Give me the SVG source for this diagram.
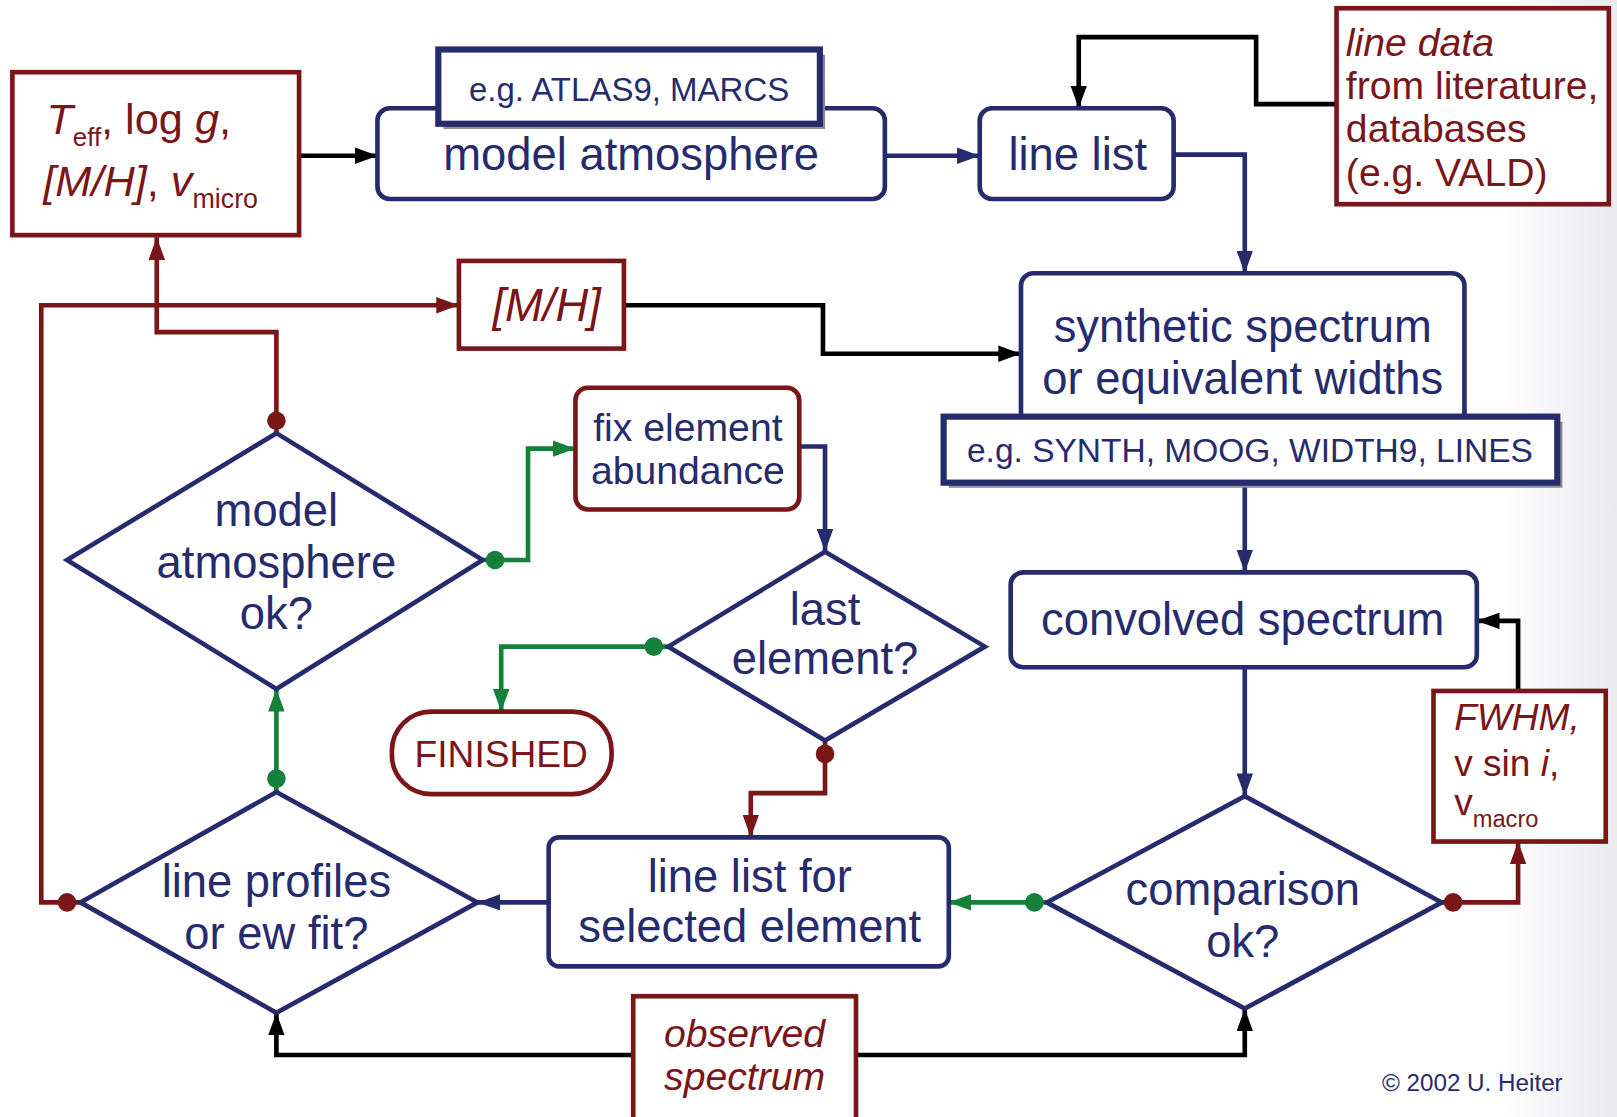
<svg xmlns="http://www.w3.org/2000/svg" width="1617" height="1117" viewBox="0 0 1617 1117">
<defs>
<style>
text{font-family:"Liberation Sans",Arial,sans-serif}
.navyT{fill:#262B6E}
.redT{fill:#7A1518}
.big{font-size:44px}
.mid{font-size:38px}
.it{font-style:italic}
.bn{fill:#fff;stroke:#262B6E;stroke-width:4.5}
.rn{fill:#fff;stroke:#7A1518;stroke-width:4.5}
.eg{fill:#fff;stroke:#262B6E;stroke-width:6}
.sh{fill:#8c8c8c}
.c{fill:none;stroke-width:4.5}
.cN{stroke:#262B6E}
.cK{stroke:#000}
.cR{stroke:#7A1518}
.cG{stroke:#15803A}
</style>
<marker id="aN" viewBox="0 0 22 16" refX="22" refY="8" markerWidth="22" markerHeight="16" markerUnits="userSpaceOnUse" orient="auto"><path d="M0,0 L22,8 L0,16 Z" fill="#262B6E"/></marker>
<marker id="aK" viewBox="0 0 22 16" refX="22" refY="8" markerWidth="22" markerHeight="16" markerUnits="userSpaceOnUse" orient="auto"><path d="M0,0 L22,8 L0,16 Z" fill="#000"/></marker>
<marker id="aR" viewBox="0 0 22 16" refX="22" refY="8" markerWidth="22" markerHeight="16" markerUnits="userSpaceOnUse" orient="auto"><path d="M0,0 L22,8 L0,16 Z" fill="#7A1518"/></marker>
<marker id="aG" viewBox="0 0 22 16" refX="22" refY="8" markerWidth="22" markerHeight="16" markerUnits="userSpaceOnUse" orient="auto"><path d="M0,0 L22,8 L0,16 Z" fill="#15803A"/></marker>
<linearGradient id="bgR" x1="0" y1="0" x2="1" y2="0">
<stop offset="0" stop-color="#ffffff"/>
<stop offset="1" stop-color="#e9e9ee"/>
</linearGradient>
</defs>
<rect x="0" y="0" width="1617" height="1117" fill="#fff"/>
<rect x="1500" y="0" width="117" height="1117" fill="url(#bgR)"/>
<g transform="scale(1.0313)">

<g id="connectors">
<path class="c cK" d="M290,151 H366" marker-end="url(#aK)"/>
<path class="c cN" d="M858,151 H950" marker-end="url(#aN)"/>
<path class="c cK" d="M1296,101 H1218 V36 H1046 V105" marker-end="url(#aK)"/>
<path class="c cN" d="M1138,150 H1207 V265" marker-end="url(#aN)"/>
<path class="c cN" d="M1207,470 V555" marker-end="url(#aN)"/>
<path class="c cN" d="M1207,647 V772" marker-end="url(#aN)"/>
<path class="c cK" d="M1472,670 V602 H1432" marker-end="url(#aK)"/>
<path class="c cR" d="M1398,875 H1472 V816" marker-end="url(#aR)"/>
<path class="c cG" d="M1015,875 H920" marker-end="url(#aG)"/>
<path class="c cN" d="M532,875 H463" marker-end="url(#aN)"/>
<path class="c cR" d="M78,875 H40 V296 H445" marker-end="url(#aR)"/>
<path class="c cK" d="M605,296 H798 V343 H990" marker-end="url(#aK)"/>
<path class="c cG" d="M268,768 V668" marker-end="url(#aG)"/>
<path class="c cR" d="M268,420 V322 H152 V230" marker-end="url(#aR)"/>
<path class="c cG" d="M468,543 H512 V435 H558" marker-end="url(#aG)"/>
<path class="c cN" d="M775,433 H800 V535" marker-end="url(#aN)"/>
<path class="c cG" d="M648,627 H486 V690" marker-end="url(#aG)"/>
<path class="c cR" d="M800,718 V769 H728 V812" marker-end="url(#aR)"/>
<path class="c cK" d="M614,1023 H268 V982" marker-end="url(#aK)"/>
<path class="c cK" d="M830,1023 H1207 V978" marker-end="url(#aK)"/>
</g>

<g id="node-params">
<rect class="rn" x="12" y="70" width="278" height="158"/>
<text class="redT" x="45" y="130" font-size="42"><tspan class="it">T</tspan><tspan font-size="25" dy="12">eff</tspan><tspan dy="-12">, log </tspan><tspan class="it">g</tspan>,</text>
<text class="redT" x="42" y="190" font-size="42"><tspan class="it">[M/H]</tspan>, <tspan class="it">v</tspan><tspan font-size="26" dy="12">micro</tspan></text>
</g>

<g id="node-model-atmosphere">
<rect class="bn" x="366" y="105" width="492" height="88" rx="12"/>
<text class="navyT big" x="612" y="165" text-anchor="middle">model atmosphere</text>
</g>

<g id="node-atlas">
<rect class="sh" x="430" y="53" width="370" height="72"/>
<rect class="eg" x="425" y="48" width="370" height="72"/>
<text class="navyT" x="610" y="98" font-size="32" text-anchor="middle">e.g. ATLAS9, MARCS</text>
</g>

<g id="node-line-list">
<rect class="bn" x="950" y="105" width="188" height="88" rx="12"/>
<text class="navyT big" x="1045" y="165" text-anchor="middle">line list</text>
</g>

<g id="node-line-data">
<rect class="rn" x="1296" y="8" width="264" height="190"/>
<text class="redT mid" x="1305" y="54"><tspan class="it">line data</tspan><tspan x="1305" y="96">from literature,</tspan><tspan x="1305" y="138">databases</tspan><tspan x="1305" y="180">(e.g. VALD)</tspan></text>
</g>

<g id="node-synthetic">
<rect class="bn" x="990" y="265" width="430" height="160" rx="12"/>
<text class="navyT big" x="1205" y="332" text-anchor="middle">synthetic spectrum</text>
<text class="navyT big" x="1205" y="382" text-anchor="middle">or equivalent widths</text>
</g>

<g id="node-synth-codes">
<rect class="sh" x="920" y="409" width="595" height="64"/>
<rect class="eg" x="915" y="404" width="595" height="64"/>
<text class="navyT" x="1212" y="448" font-size="32.5" text-anchor="middle">e.g. SYNTH, MOOG, WIDTH9, LINES</text>
</g>

<g id="node-convolved">
<rect class="bn" x="980" y="555" width="452" height="92" rx="12"/>
<text class="navyT big" x="1205" y="616" text-anchor="middle">convolved spectrum</text>
</g>

<g id="node-broadening">
<rect class="rn" x="1390" y="670" width="167" height="146"/>
<text class="redT" x="1410" y="708" font-size="36"><tspan class="it">FWHM,</tspan><tspan x="1410" y="752">v sin </tspan><tspan class="it">i</tspan>,<tspan x="1410" y="790">v</tspan><tspan font-size="23" dy="12">macro</tspan></text>
</g>

<g id="node-comparison">
<path class="bn" d="M1207,772 L1398,875 L1207,978 L1015,875 Z"/>
<text class="navyT big" x="1205" y="878" text-anchor="middle">comparison</text>
<text class="navyT big" x="1205" y="928" text-anchor="middle">ok?</text>
</g>

<g id="node-selected">
<rect class="bn" x="532" y="812" width="388" height="125" rx="10"/>
<text class="navyT big" x="727" y="865" text-anchor="middle">line list for</text>
<text class="navyT big" x="727" y="913" text-anchor="middle">selected element</text>
</g>

<g id="node-line-profiles">
<path class="bn" d="M268,768 L463,875 L268,982 L78,875 Z"/>
<text class="navyT big" x="268" y="870" text-anchor="middle">line profiles</text>
<text class="navyT big" x="268" y="920" text-anchor="middle">or ew fit?</text>
</g>

<g id="node-mh">
<rect class="rn" x="445" y="253" width="160" height="85"/>
<text class="redT big it" x="530" y="311" text-anchor="middle">[M/H]</text>
</g>

<g id="node-model-ok">
<path class="bn" d="M268,420 L468,543 L268,668 L65,543 Z"/>
<text class="navyT big" x="268" y="510" text-anchor="middle">model</text>
<text class="navyT big" x="268" y="560" text-anchor="middle">atmosphere</text>
<text class="navyT big" x="268" y="610" text-anchor="middle">ok?</text>
</g>

<g id="node-fix">
<rect class="rn" x="558" y="376" width="217" height="118" rx="12"/>
<text class="navyT mid" x="667" y="428" text-anchor="middle">fix element</text>
<text class="navyT mid" x="667" y="469" text-anchor="middle">abundance</text>
</g>

<g id="node-last">
<path class="bn" d="M800,535 L955,627 L800,718 L648,627 Z"/>
<text class="navyT big" x="800" y="606" text-anchor="middle">last</text>
<text class="navyT big" x="800" y="654" text-anchor="middle">element?</text>
</g>

<g id="node-finished">
<rect class="rn" x="380" y="690" width="213" height="80" rx="38"/>
<text class="redT" x="486" y="744" font-size="36" text-anchor="middle">FINISHED</text>
</g>

<g id="node-observed">
<rect class="rn" x="614" y="966" width="216" height="120"/>
<text class="redT mid it" x="722" y="1015" text-anchor="middle">observed</text>
<text class="redT mid it" x="722" y="1057" text-anchor="middle">spectrum</text>
</g>

<g id="dots">
<circle cx="1409" cy="875" r="9" fill="#7A1518"/>
<circle cx="1003" cy="875" r="9" fill="#15803A"/>
<circle cx="65" cy="875" r="9" fill="#7A1518"/>
<circle cx="268" cy="755" r="9" fill="#15803A"/>
<circle cx="268" cy="408" r="9" fill="#7A1518"/>
<circle cx="480" cy="543" r="9" fill="#15803A"/>
<circle cx="634" cy="627" r="9" fill="#15803A"/>
<circle cx="800" cy="731" r="9" fill="#7A1518"/>
</g>

<text class="navyT" x="1340" y="1058" font-size="23.5">© 2002 U. Heiter</text>
</g>
</svg>
